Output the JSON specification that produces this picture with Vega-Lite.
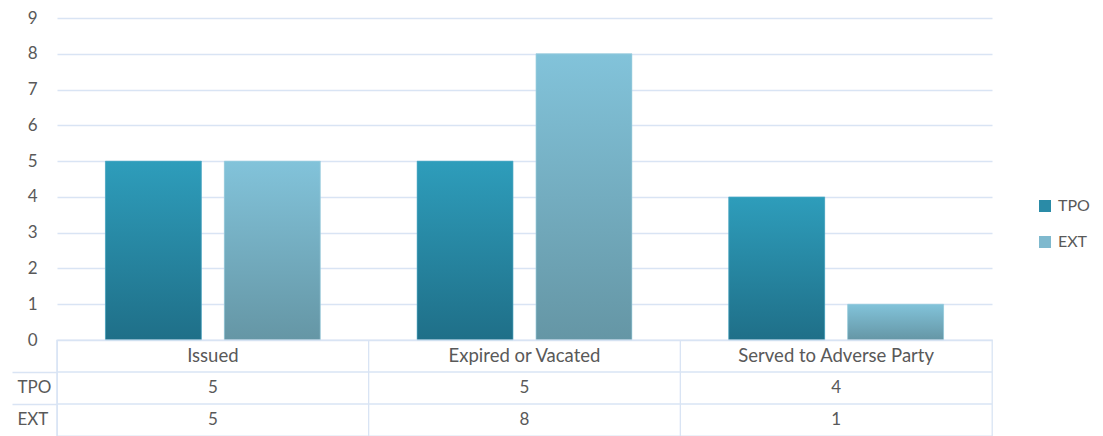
{
  "$schema": "https://vega.github.io/schema/vega-lite/v6.json",
  "padding": {"left": 10, "top": 9, "right": 10, "bottom": 0},
  "bounds": "flush",
  "spacing": 0,
  "config": {
    "view": {"stroke": null},
    "font": "Lato",
    "text": {"font": "Lato"}
  },
  "datasets": {
    "d": [
      {"category": "Issued", "series": "TPO", "value": 5},
      {"category": "Issued", "series": "EXT", "value": 5},
      {"category": "Expired or Vacated", "series": "TPO", "value": 5},
      {"category": "Expired or Vacated", "series": "EXT", "value": 8},
      {"category": "Served to Adverse Party", "series": "TPO", "value": 4},
      {"category": "Served to Adverse Party", "series": "EXT", "value": 1}
    ]
  },
  "vconcat": [
    {
      "width": 935,
      "height": 322,
      "data": {"name": "d"},
      "encoding": {
        "x": {"field": "category", "type": "nominal", "sort": null, "scale": {"paddingInner": 0, "paddingOuter": 0}, "axis": null},
        "y": {"field": "value", "type": "quantitative", "scale": {"domain": [0, 9]},
          "axis": {"values": [0,1,2,3,4,5,6,7,8,9], "grid": true, "gridColor": "#d9e4f4", "gridWidth": 1.3, "domain": false, "ticks": false, "labelPadding": 20, "labelFontSize": 17, "labelColor": "#595959", "title": null}},
        "xOffset": {"field": "series", "type": "nominal", "sort": ["TPO", "EXT"], "scale": {"domain": ["TPO", "EXT"], "paddingInner": 0.193, "paddingOuter": 0.407}}
      },
      "layer": [
        {
          "mark": {"type": "bar"},
          "encoding": {
            "color": {"field": "series", "type": "nominal", "sort": ["TPO", "EXT"],
              "scale": {"domain": ["TPO", "EXT"], "range": ["#2a8ba7", "#7fb9ce"]},
              "legend": {"orient": "none", "legendX": 980, "legendY": 180, "title": null, "symbolType": "square", "symbolSize": 144, "symbolStrokeWidth": 0, "labelFontSize": 16, "labelColor": "#595959", "rowPadding": 20, "labelOffset": 5}}
          }
        },
        {
          "transform": [{"filter": "datum.series === 'TPO'"}],
          "mark": {"type": "bar", "stroke": "#5fb3cc", "strokeWidth": 1, "strokeOpacity": 0.6,
            "color": {"gradient": "linear", "x1": 0, "y1": 0, "x2": 0, "y2": 1,
              "stops": [{"offset": 0, "color": "#2e9dbb"}, {"offset": 1, "color": "#1f6f88"}]}}
        },
        {
          "transform": [{"filter": "datum.series === 'EXT'"}],
          "mark": {"type": "bar", "stroke": "#a5d3e3", "strokeWidth": 1, "strokeOpacity": 0.6,
            "color": {"gradient": "linear", "x1": 0, "y1": 0, "x2": 0, "y2": 1,
              "stops": [{"offset": 0, "color": "#82c3da"}, {"offset": 1, "color": "#6596a5"}]}}
        }
      ]
    },
    {
      "width": 935,
      "height": 96,
      "view": {"stroke": "#d9e4f4", "strokeWidth": 1.3},
      "data": {"name": "d"},
      "encoding": {
        "x": {"field": "category", "type": "nominal", "sort": null, "scale": {"paddingInner": 0, "paddingOuter": 0}, "axis": null}
      },
      "layer": [
        {
          "transform": [{"filter": "datum.series === 'TPO'"}],
          "mark": {"type": "rule", "color": "#d9e4f4", "strokeWidth": 1.3},
          "encoding": {
            "x": {"field": "category", "type": "nominal", "sort": null, "bandPosition": 0}
          }
        },
        {
          "transform": [{"filter": "datum.category === 'Issued'"}],
          "mark": {"type": "rule", "color": "#d9e4f4", "strokeWidth": 1.3},
          "encoding": {
            "x": null,
            "y": {"field": "series", "type": "nominal", "bandPosition": 0,
              "scale": {"domain": ["h", "TPO", "EXT"], "paddingInner": 0, "paddingOuter": 0},
              "axis": {"grid": false, "bandPosition": 0, "domain": false, "ticks": true, "tickSize": 45, "tickWidth": 1.3,
                "tickColor": {"condition": {"test": "datum.value === 'h'", "value": "transparent"}, "value": "#d9e4f4"},
                "labelExpr": "datum.value === 'h' ? '' : datum.value", "labelAlign": "left", "labelPadding": -5, "labelFontSize": 17, "labelColor": "#595959", "title": null}}
          }
        },
        {
          "transform": [{"filter": "datum.series === 'TPO'"}],
          "mark": {"type": "text", "fontSize": 18.5, "color": "#595959"},
          "encoding": {
            "y": {"datum": "h", "type": "nominal"},
            "text": {"field": "category"}
          }
        },
        {
          "mark": {"type": "text", "fontSize": 17, "color": "#595959"},
          "encoding": {
            "y": {"field": "series", "type": "nominal"},
            "text": {"field": "value"}
          }
        }
      ]
    }
  ]
}
